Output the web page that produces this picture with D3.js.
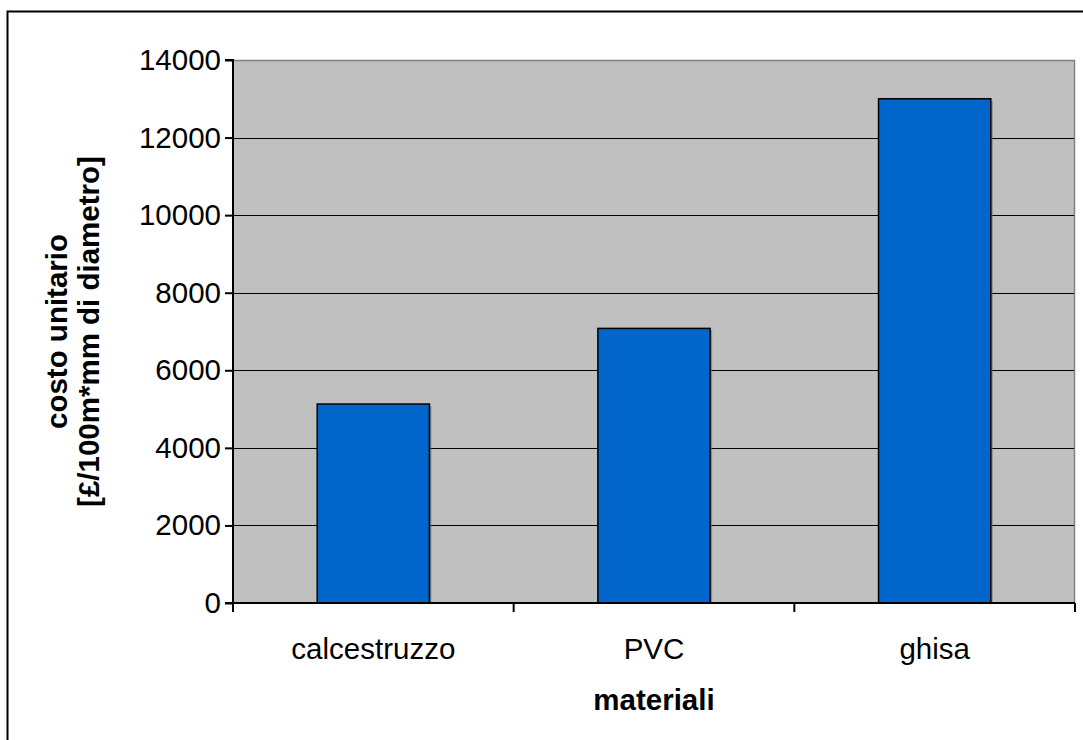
<!DOCTYPE html>
<html>
<head>
<meta charset="utf-8">
<script src="https://cdn.jsdelivr.net/npm/d3@7"></script>
<style>
  html, body { margin: 0; padding: 0; background: #fff; }
  svg { display: block; font-family: "Liberation Sans", Arial, sans-serif; }
</style>
</head>
<body>
<svg id="chart" width="1083" height="740"></svg>
<script>
const categories = ["calcestruzzo", "PVC", "ghisa"];
const values = [5130, 7080, 13000];
const yTicks = [0, 2000, 4000, 6000, 8000, 10000, 12000, 14000];
const yTitleLines = ["costo unitario", "[£/100m*mm di diametro]"];
const xTitle = "materiali";

const svg = d3.select("#chart");
const W = 1083, H = 740;
const plot = { left: 233, top: 60, right: 1075, bottom: 603 };
const fs = "29.5px";

// outer chart border
svg.append("rect")
  .attr("x", 7.5).attr("y", 11.5)
  .attr("width", W + 20).attr("height", H + 20)
  .attr("fill", "#fff").attr("stroke", "#000").attr("stroke-width", 2);

const x = d3.scaleBand().domain(categories).range([plot.left, plot.right]).paddingInner(0.6).paddingOuter(0.3);
const y = d3.scaleLinear().domain([0, 14000]).range([plot.bottom, plot.top]);

// plot area
svg.append("rect")
  .attr("x", plot.left).attr("y", plot.top)
  .attr("width", plot.right - plot.left).attr("height", plot.bottom - plot.top)
  .attr("fill", "#c0c0c0");
svg.append("path")
  .attr("d", `M${plot.left},${plot.top + 0.5}H${plot.right - 0.5}V${plot.bottom}`)
  .attr("fill", "none").attr("stroke", "#808080").attr("stroke-width", 1.5);

// gridlines
svg.append("g").selectAll("line")
  .data(yTicks.filter(d => d > 0 && d < 14000))
  .join("line")
  .attr("x1", plot.left).attr("x2", plot.right - 1)
  .attr("y1", d => Math.round(y(d)) + 0.5).attr("y2", d => Math.round(y(d)) + 0.5)
  .attr("stroke", "#000").attr("stroke-width", 1);

const barData = categories.map((c, i) => ({ c, v: values[i] }));
// subtle bar shadow
svg.append("g").selectAll("rect")
  .data(barData)
  .join("rect")
  .attr("x", d => x(d.c) + 2)
  .attr("y", d => y(d.v) + 2)
  .attr("width", x.bandwidth())
  .attr("height", d => y(0) - y(d.v) - 2)
  .attr("fill", "#6a6a6a").attr("opacity", 0.6);
// bars
svg.append("g").selectAll("rect")
  .data(barData)
  .join("rect")
  .attr("x", d => x(d.c))
  .attr("y", d => y(d.v))
  .attr("width", x.bandwidth())
  .attr("height", d => y(0) - y(d.v))
  .attr("fill", "#0066cc")
  .attr("stroke", "#000").attr("stroke-width", 1.5);

// y axis
const yAxis = d3.axisLeft(y).tickValues(yTicks).tickSize(8).tickPadding(4).tickFormat(d3.format("d"));
const gy = svg.append("g").attr("transform", `translate(${plot.left},0)`).call(yAxis);
gy.select(".domain").attr("stroke", "#000").attr("stroke-width", 2).attr("d", `M-8,${plot.top}H0V${plot.bottom}H-8`);
gy.selectAll(".tick line").attr("stroke", "#000").attr("stroke-width", 2);
gy.selectAll(".tick text").attr("fill", "#000").style("font-size", fs);

// x axis
const xEdges = [0, 1, 2, 3].map(i => plot.left + i * (plot.right - plot.left) / 3);
const gx = svg.append("g").attr("transform", `translate(0,${plot.bottom})`);
gx.append("line").attr("x1", plot.left).attr("x2", plot.right).attr("y1", 0).attr("y2", 0)
  .attr("stroke", "#000").attr("stroke-width", 2);
gx.selectAll("line.tk").data(xEdges).join("line").attr("class", "tk")
  .attr("x1", d => d).attr("x2", d => d).attr("y1", 0).attr("y2", 9)
  .attr("stroke", "#000").attr("stroke-width", 2);
gx.selectAll("text").data(categories).join("text")
  .attr("x", d => x(d) + x.bandwidth() / 2)
  .attr("y", 56)
  .attr("text-anchor", "middle")
  .style("font-size", fs)
  .text(d => d);

// x title
svg.append("text")
  .attr("x", (plot.left + plot.right) / 2).attr("y", 710)
  .attr("text-anchor", "middle")
  .style("font-size", fs).style("font-weight", "bold")
  .text(xTitle);

// y title
const yt = svg.append("text")
  .attr("transform", `translate(67,${(plot.top + plot.bottom) / 2}) rotate(-90)`)
  .attr("text-anchor", "middle")
  .style("font-size", fs).style("font-weight", "bold");
yTitleLines.forEach((t, i) => {
  yt.append("tspan").attr("x", 0).attr("y", i * 32).text(t);
});
</script>
</body>
</html>
